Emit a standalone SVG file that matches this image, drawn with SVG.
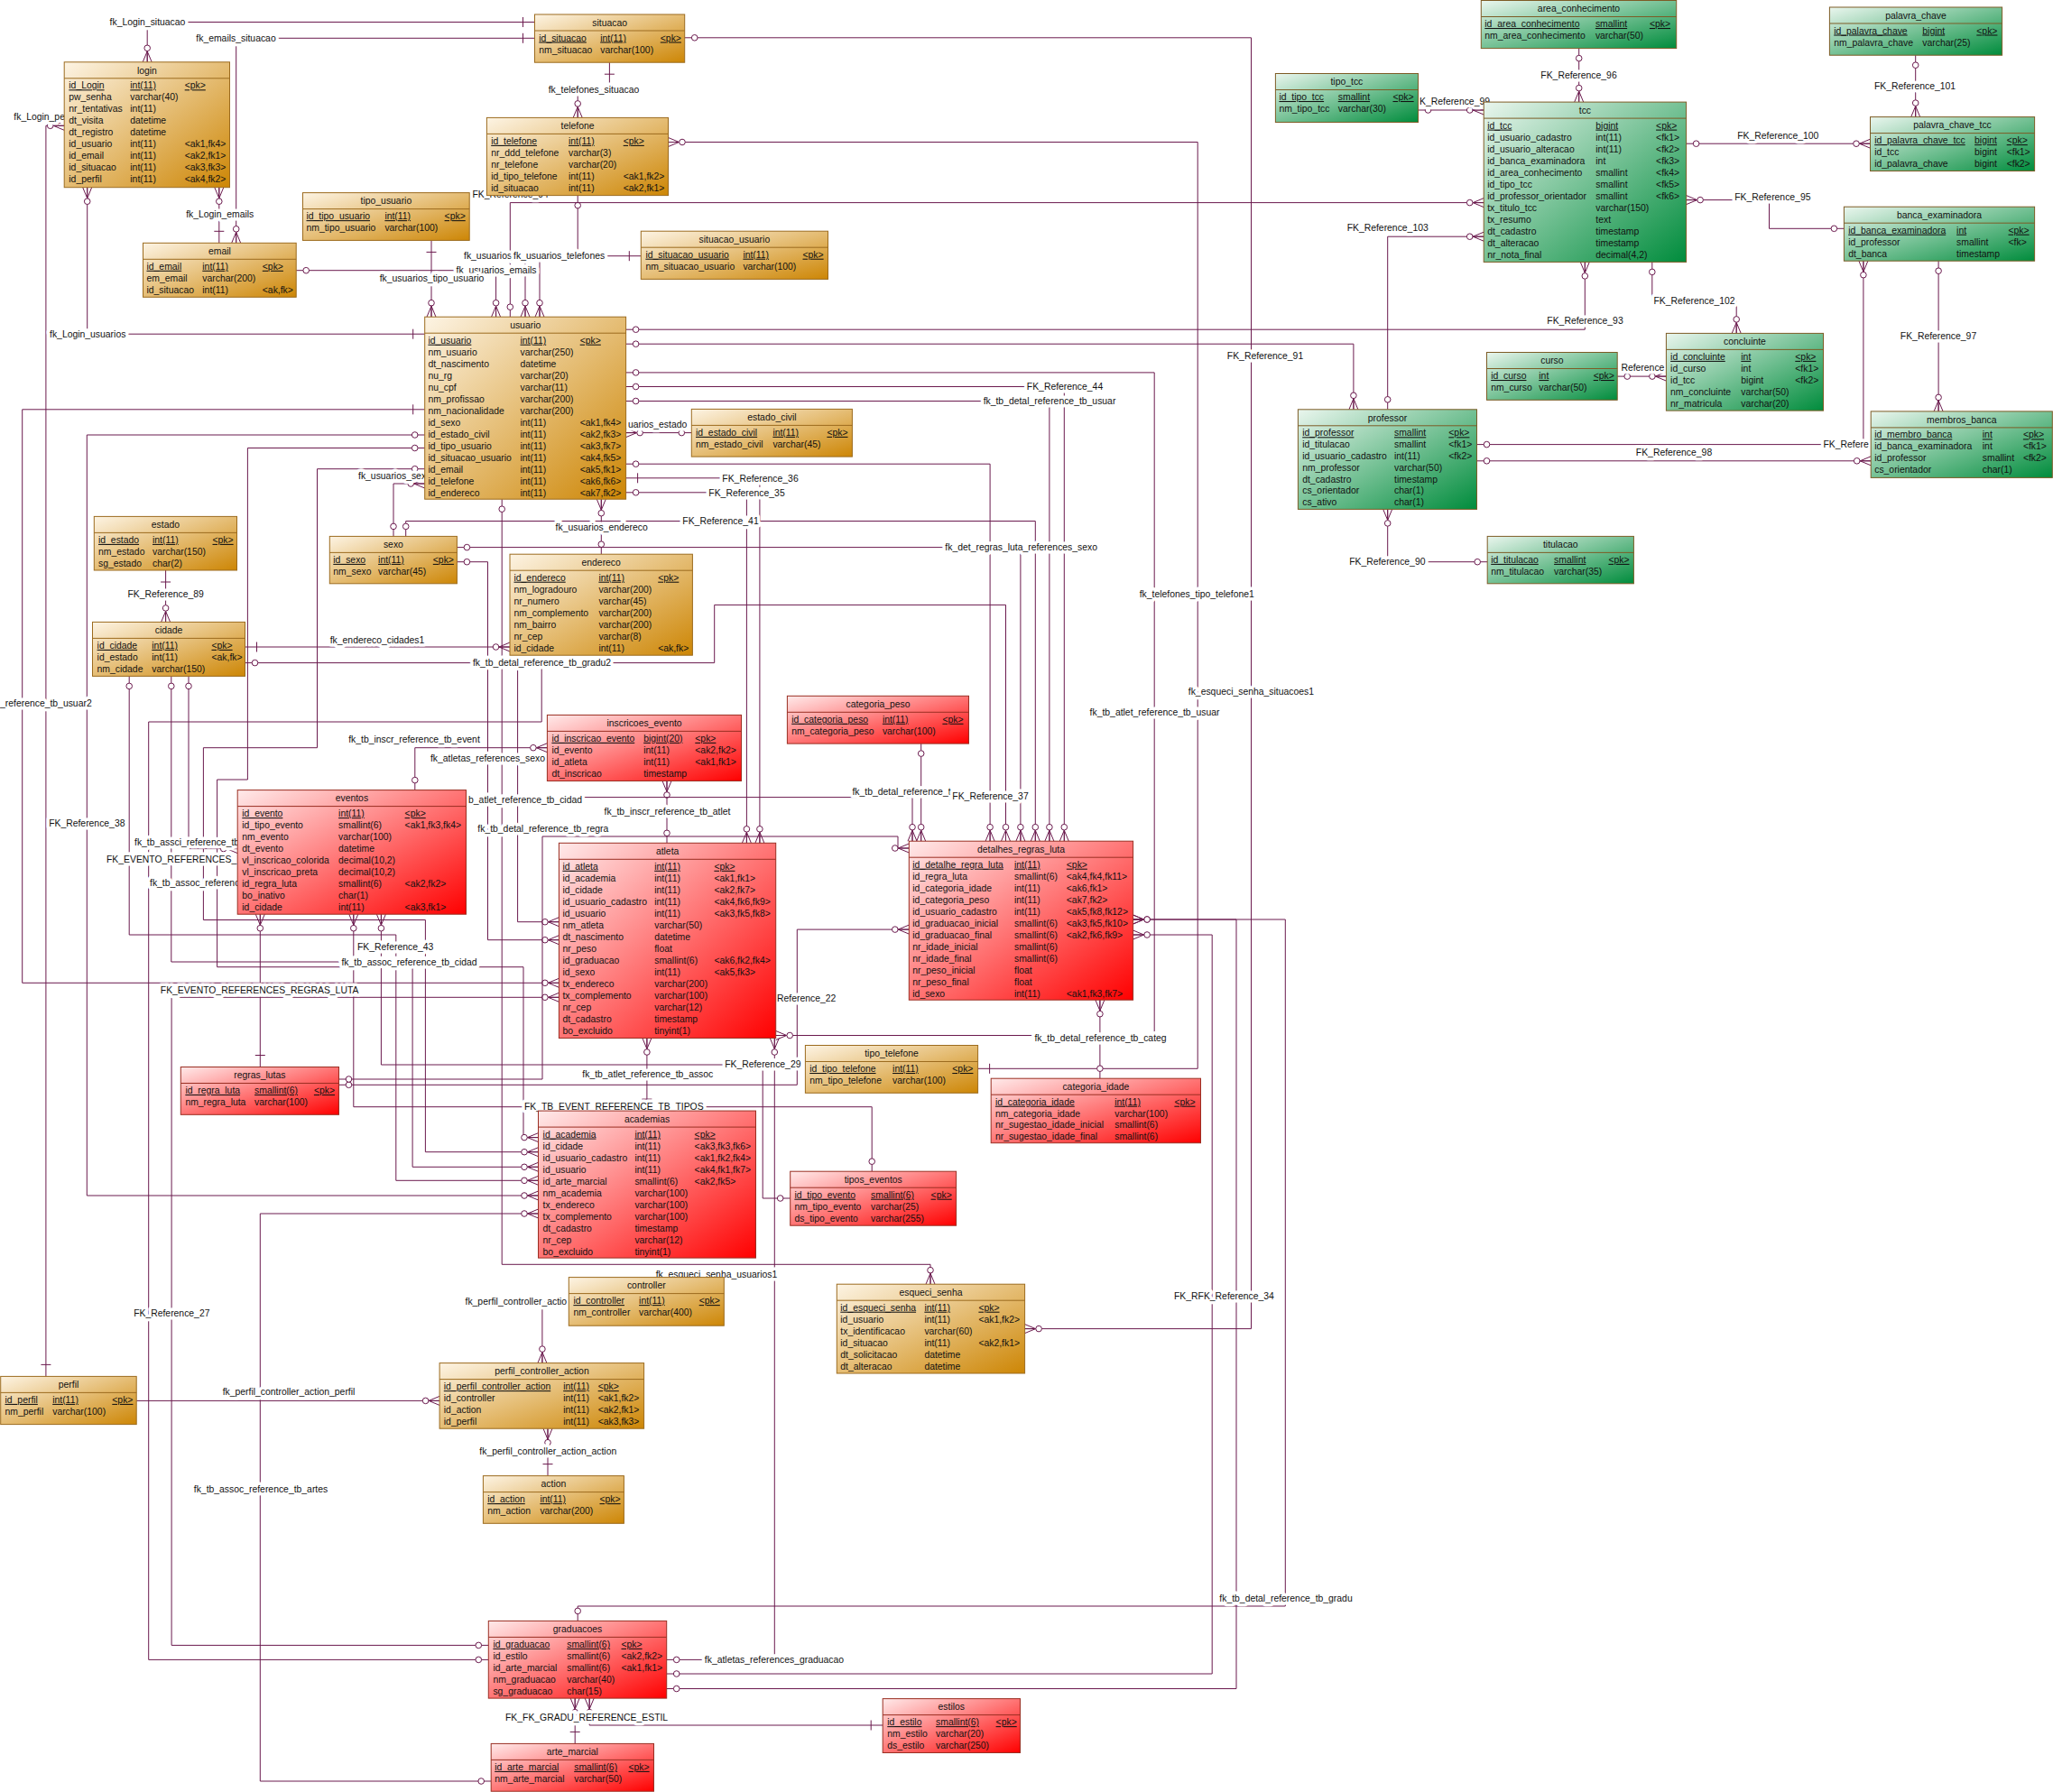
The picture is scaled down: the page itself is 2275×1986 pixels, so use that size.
<svg xmlns="http://www.w3.org/2000/svg" width="2275" height="1986" viewBox="0 0 2275 1986">
<defs>
<linearGradient id="go" x1="0" y1="0" x2="1" y2="1"><stop offset="0" stop-color="#fdf4e4"/><stop offset="1" stop-color="#cd8605"/></linearGradient>
<linearGradient id="gr" x1="0" y1="0" x2="1" y2="1"><stop offset="0" stop-color="#ffeaea"/><stop offset="1" stop-color="#ff0000"/></linearGradient>
<linearGradient id="gg" x1="0" y1="0" x2="1" y2="1"><stop offset="0" stop-color="#eaf6ee"/><stop offset="1" stop-color="#008c3c"/></linearGradient>
<marker id="mc" viewBox="-22 -8 24 16" refX="0" refY="0" markerWidth="24" markerHeight="16" markerUnits="userSpaceOnUse" orient="auto-start-reverse"><path d="M-12,0L0,-5M-12,0H0M-12,0L0,5" fill="none" stroke="#6b1a4e"/><circle cx="-15.5" cy="0" r="3.3" fill="#fff" stroke="#6b1a4e"/></marker>
<marker id="mb" viewBox="-22 -8 24 16" refX="0" refY="0" markerWidth="24" markerHeight="16" markerUnits="userSpaceOnUse" orient="auto-start-reverse"><path d="M-13,-5.5V5.5" fill="none" stroke="#6b1a4e"/></marker>
<marker id="mo" viewBox="-22 -8 24 16" refX="0" refY="0" markerWidth="24" markerHeight="16" markerUnits="userSpaceOnUse" orient="auto-start-reverse"><circle cx="-11" cy="0" r="3.3" fill="#fff" stroke="#6b1a4e"/></marker>
</defs>
<style>
text{font-family:"Liberation Sans",Arial,sans-serif;font-size:10.4px;fill:#111}
.tt{text-anchor:middle}
.u{text-decoration:underline}
.lb{text-anchor:middle;paint-order:stroke;stroke:#fff;stroke-width:7px;stroke-linejoin:round}
.ls{paint-order:stroke;stroke:#fff;stroke-width:7px;stroke-linejoin:round}
.le{text-anchor:end;paint-order:stroke;stroke:#fff;stroke-width:7px;stroke-linejoin:round}
.bg{fill:#fff;stroke:none}
.o{fill:url(#go);stroke:#9c6b1e}
.r{fill:url(#gr);stroke:#9a2e22}
.g{fill:url(#gg);stroke:#7d5c26}
.so{stroke:#9c6b1e;fill:none}
.sr{stroke:#9a2e22;fill:none}
.sg{stroke:#7d5c26;fill:none}
.l{fill:none;stroke:#6b1a4e;stroke-width:1}
.b{marker-start:url(#mb)}
.c{marker-start:url(#mo)}
.k{marker-start:url(#mc)}
.e{marker-end:url(#mc)}
</style>
<rect x="0" y="0" width="2275" height="1986" fill="#fff"/>
<g id="connectors">
<path class="l b e" d="M592.5,24.5H163.2V68.8"/>
<path class="l b e" d="M592.5,42.3H261.7V269.3"/>
<path class="l b e" d="M242.8,269.3V207.7"/>
<path class="l b e" d="M50.9,1525.4V139.3H71.2"/>
<path class="l b e" d="M470.7,370.2H96.7V207.7"/>
<path class="l c e" d="M328.2,299.7H549.6V351.2"/>
<path class="l b e" d="M478,266.4V351.2"/>
<path class="l c e" d="M640.2,216.6V283.7H582V351.2"/>
<path class="l b e" d="M710.3,283.7H598V351.2"/>
<path class="l c e" d="M565.3,351.2V224.6H1644.2"/>
<path class="l b e" d="M675.4,69.2V99.6H640.2V130.4"/>
<path class="l b e" d="M1083.6,1184.3H1327.2V157.5H740.5"/>
<path class="l c e" d="M758.7,41.8H1386.5V1472.6H1135.6"/>
<path class="l c e" d="M766.3,479.6H693.6"/>
<path class="l c e" d="M436,594.4V536H470.7"/>
<path class="l c e" d="M666.3,614.2V553.2"/>
<path class="l b e" d="M183.6,632V689.4"/>
<path class="l b e" d="M271.5,717H565"/>
<path class="l c e" d="M693.6,365.2H1756.3V290.4"/>
<path class="l c e" d="M693.6,381.2H1499.9V453.8"/>
<path class="l c e" d="M693.6,412.9H1279.2V1147.5H859.7"/>
<path class="l c e" d="M693.6,428.5H1179.3V932.2"/>
<path class="l c e" d="M693.6,444.5H1162.9V932.2"/>
<path class="l c e" d="M693.6,514.2H1097.1V932.2"/>
<path class="l b e" d="M693.6,529.8H841.9V934.3"/>
<path class="l c e" d="M693.6,545.8H827.4V934.3"/>
<path class="l c e" d="M449.7,594.4V577.5H1147.3V932.2"/>
<path class="l c e" d="M506.4,606.6H1130.9V932.2"/>
<path class="l c e" d="M541.3,1839.4H164.7V800H600.2V734.6H791.7V670.4H1114.5V932.2"/>
<path class="l c e" d="M271.5,734.6H573.6V1021.7H619.4"/>
<path class="l c e" d="M470.7,482H96.3V1325H596.5"/>
<path class="l b e" d="M470.7,453.8H24.7V1089.3H619.4"/>
<path class="l c e" d="M470.7,496.5H274.4V864H240.6V1071.7H580V1260.6H596.5"/>
<path class="l c e" d="M470.7,519.7H351.5V828.7H225.4V1019.5H471.4V1276.7H596.5"/>
<path class="l c e" d="M506.4,622.7H540.5V1041.7H619.4"/>
<path class="l c e" d="M541.3,1823.4H190.1V1105.3H619.4"/>
<path class="l c e" d="M143.2,749.4V1036H438.8V1308.3H596.5"/>
<path class="l c e" d="M189.8,749.4V1066H457.1V1293.3H596.5"/>
<path class="l c e" d="M209,749.4V940.6H263.2"/>
<path class="l b e" d="M288.3,1182.5V1013.2"/>
<path class="l c e" d="M966.2,1298.2V1226.7H391.8V1013.2"/>
<path class="l c e" d="M875.7,1328H845.2V1180H422.4V1013.2"/>
<path class="l c e" d="M459.8,875.6V828.7H606.4"/>
<path class="l c e" d="M739,934.3V865.5"/>
<path class="l b e" d="M716.9,1231.1V1150.5"/>
<path class="l c e" d="M738.7,1839.4H858.3V1150.5"/>
<path class="l c e" d="M375.5,1202.3H883.3V1030.1H1007.3"/>
<path class="l c e" d="M375.5,1196H601V927H995V940H1007.3"/>
<path class="l c e" d="M1020.7,824.1V932.2"/>
<path class="l e" d="M645,883.6H1011V932.2"/>
<path class="l c e" d="M1218.9,1195.2V1108.2"/>
<path class="l c e" d="M640.2,1796.4V1780H1424.3V1019H1255.6"/>
<path class="l c e" d="M738.7,1855H1343.2V1036H1255.6"/>
<path class="l c e" d="M738.7,1871.5H1370V1019H1255.6"/>
<path class="l c e" d="M556.2,553.2V1401.3H1031V1423.2"/>
<path class="l e" d="M151.2,1552.4H487.1"/>
<path class="l e" d="M630.3,1442.6H600.9V1510.6"/>
<path class="l b e" d="M607,1635.6V1583.2"/>
<path class="l c e" d="M544.2,1974H288.3V1345H596.5"/>
<path class="l b e" d="M978.2,1912H653.2V1882.1"/>
<path class="l b e" d="M637.2,1932.4V1882.1"/>
<path class="l c e" d="M1749.7,53.6V113.1"/>
<path class="l c e" d="M1571.5,122H1644.2"/>
<path class="l c e" d="M1868.6,159.2H2072.5"/>
<path class="l c e" d="M2122.7,61.2V129.6"/>
<path class="l c e" d="M2043.4,253.3H1960.5V221.6H1868.6"/>
<path class="l c e" d="M1830.8,290.4V333.5H1924.2V369.4"/>
<path class="l c e" d="M1792.2,417.1H1846.4"/>
<path class="l c e" d="M1636.5,510.8H2073.2"/>
<path class="l c e" d="M1636.5,492.6H2064.9V289.2"/>
<path class="l c e" d="M2148.1,289.2V455.9"/>
<path class="l c e" d="M1648.2,622.7H1537.7V564.4"/>
<path class="l c e" d="M1537.7,453.8V262.2H1644.2"/>
<rect class="bg" x="121" y="18.5" width="86" height="12"/>
<rect class="bg" x="217" y="36.6" width="89" height="12"/>
<rect class="bg" x="55" y="364.2" width="85" height="12"/>
<rect class="bg" x="506" y="293.3" width="88" height="12"/>
<rect class="bg" x="571" y="277.7" width="98" height="12"/>
<rect class="bg" x="1137" y="422.5" width="86" height="12"/>
<rect class="bg" x="1089" y="438.5" width="148" height="12"/>
<rect class="bg" x="800" y="523.8" width="85" height="12"/>
<rect class="bg" x="785" y="539.8" width="85" height="12"/>
<rect class="bg" x="756" y="571.5" width="85" height="12"/>
<rect class="bg" x="1049" y="600.6" width="166" height="12"/>
<rect class="bg" x="522" y="728.6" width="157" height="12"/>
<rect class="bg" x="517" y="880.6" width="128" height="12"/>
<rect class="bg" x="944" y="871.3" width="112" height="12"/>
<rect class="bg" x="379" y="1059.8" width="149" height="12"/>
<rect class="bg" x="803" y="1173" width="85" height="12"/>
<rect class="bg" x="581" y="1220.4" width="199" height="12"/>
<rect class="bg" x="1145" y="1144.4" width="149" height="12"/>
<rect class="bg" x="780" y="1833.4" width="155" height="12"/>
<rect class="bg" x="2020" y="486.7" width="49" height="12"/>
<rect class="bg" x="1922" y="212.2" width="85" height="12"/>
<rect class="bg" x="1495" y="616.7" width="84" height="12"/>
<rect class="bg" x="1832" y="327.5" width="91" height="12"/>
<text class="lb" x="163.5" y="28.2">fk_Login_situacao</text>
<text class="lb" x="261.5" y="46.3">fk_emails_situacao</text>
<text class="lb" x="243.7" y="241.4">fk_Login_emails</text>
<text class="ls" x="15.3" y="132.5">fk_Login_pe</text>
<text class="lb" x="97.2" y="373.9">fk_Login_usuarios</text>
<text class="lb" x="550" y="303">fk_usuarios_emails</text>
<text class="lb" x="478.5" y="312.3">fk_usuarios_tipo_usuario</text>
<text class="ls" x="514" y="287.4">fk_usuarios_</text>
<text class="lb" x="619.6" y="287.4">fk_usuarios_telefones</text>
<text class="ls" x="523.5" y="219.4">FK_Reference_94</text>
<text class="lb" x="658" y="103.3">fk_telefones_situacao</text>
<text class="lb" x="1326.3" y="662.2">fk_telefones_tipo_telefone1</text>
<text class="lb" x="1386.4" y="770">fk_esqueci_senha_situacoes1</text>
<text class="ls" x="696" y="474.4">uarios_estado</text>
<text class="ls" x="397" y="531.4">fk_usuarios_sex</text>
<text class="lb" x="666.7" y="587.5">fk_usuarios_endereco</text>
<text class="lb" x="183.6" y="662.2">FK_Reference_89</text>
<text class="lb" x="418" y="713.4">fk_endereco_cidades1</text>
<text class="lb" x="1756.5" y="359.1">FK_Reference_93</text>
<text class="lb" x="1402" y="398.4">FK_Reference_91</text>
<text class="lb" x="1279.5" y="793.2">fk_tb_atlet_reference_tb_usuar</text>
<text class="lb" x="1180" y="432.2">FK_Reference_44</text>
<text class="lb" x="1163" y="448.2">fk_tb_detal_reference_tb_usuar</text>
<text class="lb" x="842.5" y="533.5">FK_Reference_36</text>
<text class="lb" x="827.5" y="549.5">FK_Reference_35</text>
<text class="lb" x="798.5" y="581.2">FK_Reference_41</text>
<text class="lb" x="1131.7" y="610.3">fk_det_regras_luta_references_sexo</text>
<text class="lb" x="600.5" y="738.3">fk_tb_detal_reference_tb_gradu2</text>
<text class="lb" x="96.3" y="916">FK_Reference_38</text>
<text class="ls" x="0" y="783.1">_reference_tb_usuar2</text>
<text class="lb" x="540.5" y="844.3">fk_atletas_references_sexo</text>
<text class="lb" x="190.3" y="1459.4">FK_Reference_27</text>
<text class="lb" x="453.5" y="1069.5">fk_tb_assoc_reference_tb_cidad</text>
<text class="ls" x="149" y="937.1">fk_tb_assci_reference_tb</text>
<text class="ls" x="118" y="956.1">FK_EVENTO_REFERENCES_</text>
<text class="ls" x="166" y="981.5">fk_tb_assoc_referenc</text>
<text class="lb" x="287.6" y="1100.5">FK_EVENTO_REFERENCES_REGRAS_LUTA</text>
<text class="lb" x="680.3" y="1230.1">FK_TB_EVENT_REFERENCE_TB_TIPOS</text>
<text class="ls" x="396" y="1053.2">FK_Reference_43</text>
<text class="lb" x="459" y="823.2">fk_tb_inscr_reference_tb_event</text>
<text class="lb" x="739.5" y="903.4">fk_tb_inscr_reference_tb_atlet</text>
<text class="lb" x="717.8" y="1194.2">fk_tb_atlet_reference_tb_assoc</text>
<text class="ls" x="780.8" y="1843.1">fk_atletas_references_graduacao</text>
<text class="lb" x="845.3" y="1182.7">FK_Reference_29</text>
<text class="ls" x="861" y="1110.2">Reference_22</text>
<text class="lb" x="601.8" y="921.9">fk_tb_detal_reference_tb_regra</text>
<text class="le" x="645" y="890.3">b_atlet_reference_tb_cidad</text>
<text class="ls" x="944.4" y="881">fk_tb_detal_reference_t</text>
<text class="lb" x="1097.5" y="886.1">FK_Reference_37</text>
<text class="lb" x="1219.5" y="1154.1">fk_tb_detal_reference_tb_categ</text>
<text class="lb" x="1425" y="1775.2">fk_tb_detal_reference_tb_gradu</text>
<text class="ls" x="1301" y="1439.6">FK_RFK_Reference_34</text>
<text class="lb" x="794" y="1415.5">fk_esqueci_senha_usuarios1</text>
<text class="lb" x="320" y="1546.4">fk_perfil_controller_action_perfil</text>
<text class="ls" x="515.5" y="1446.3">fk_perfil_controller_actio</text>
<text class="lb" x="607.3" y="1612.2">fk_perfil_controller_action_action</text>
<text class="lb" x="289" y="1654">fk_tb_assoc_reference_tb_artes</text>
<text class="ls" x="560" y="1906.9">FK_FK_GRADU_REFERENCE_ESTIL</text>
<text class="lb" x="1749.5" y="86.9">FK_Reference_96</text>
<text class="ls" x="1573" y="116">K_Reference_99</text>
<text class="lb" x="1970.3" y="154">FK_Reference_100</text>
<text class="lb" x="2122" y="99.1">FK_Reference_101</text>
<text class="lb" x="1964.3" y="221.9">FK_Reference_95</text>
<text class="lb" x="1877.5" y="337.2">FK_Reference_102</text>
<text class="lb" x="1820.4" y="411.1">Reference</text>
<text class="lb" x="1855" y="505.2">FK_Reference_98</text>
<text class="ls" x="2020.5" y="496.4">FK_Refere</text>
<text class="lb" x="2148" y="376">FK_Reference_97</text>
<text class="lb" x="1537.3" y="626.4">FK_Reference_90</text>
<text class="lb" x="1537.7" y="256.1">FK_Reference_103</text>
</g>
<g id="login"><rect class="o" x="71.2" y="68.8" width="183.3" height="138.9"/><path class="so" d="M71.2,86.8h183.3"/><text class="tt" x="162.9" y="81.5">login</text>
<text class="u" y="98.3"><tspan x="76.3">id_Login</tspan><tspan x="144.3">int(11)</tspan><tspan x="204.7">&lt;pk&gt;</tspan></text>
<text y="111.3"><tspan x="76.3">pw_senha</tspan><tspan x="144.3">varchar(40)</tspan></text>
<text y="124.3"><tspan x="76.3">nr_tentativas</tspan><tspan x="144.3">int(11)</tspan></text>
<text y="137.3"><tspan x="76.3">dt_visita</tspan><tspan x="144.3">datetime</tspan></text>
<text y="150.3"><tspan x="76.3">dt_registro</tspan><tspan x="144.3">datetime</tspan></text>
<text y="163.3"><tspan x="76.3">id_usuario</tspan><tspan x="144.3">int(11)</tspan><tspan x="204.7">&lt;ak1,fk4&gt;</tspan></text>
<text y="176.3"><tspan x="76.3">id_email</tspan><tspan x="144.3">int(11)</tspan><tspan x="204.7">&lt;ak2,fk1&gt;</tspan></text>
<text y="189.3"><tspan x="76.3">id_situacao</tspan><tspan x="144.3">int(11)</tspan><tspan x="204.7">&lt;ak3,fk3&gt;</tspan></text>
<text y="202.3"><tspan x="76.3">id_perfil</tspan><tspan x="144.3">int(11)</tspan><tspan x="204.7">&lt;ak4,fk2&gt;</tspan></text>
</g>
<g id="email"><rect class="o" x="158.5" y="269.3" width="169.7" height="60"/><path class="so" d="M158.5,287.3h169.7"/><text class="tt" x="243.4" y="282">email</text>
<text class="u" y="298.8"><tspan x="162.5">id_email</tspan><tspan x="224.3">int(11)</tspan><tspan x="290.8">&lt;pk&gt;</tspan></text>
<text y="311.8"><tspan x="162.5">em_email</tspan><tspan x="224.3">varchar(200)</tspan></text>
<text y="324.8"><tspan x="162.5">id_situacao</tspan><tspan x="224.3">int(11)</tspan><tspan x="290.8">&lt;ak,fk&gt;</tspan></text>
</g>
<g id="tipo_usuario"><rect class="o" x="335.5" y="213.6" width="184.7" height="52.8"/><path class="so" d="M335.5,231.6h184.7"/><text class="tt" x="427.9" y="226.3">tipo_usuario</text>
<text class="u" y="243.1"><tspan x="339.5">id_tipo_usuario</tspan><tspan x="426.4">int(11)</tspan><tspan x="492.6">&lt;pk&gt;</tspan></text>
<text y="256.1"><tspan x="339.5">nm_tipo_usuario</tspan><tspan x="426.4">varchar(100)</tspan></text>
</g>
<g id="situacao"><rect class="o" x="592.5" y="16" width="166.2" height="53.2"/><path class="so" d="M592.5,34h166.2"/><text class="tt" x="675.6" y="28.7">situacao</text>
<text class="u" y="45.5"><tspan x="597.3">id_situacao</tspan><tspan x="665.2">int(11)</tspan><tspan x="731.8">&lt;pk&gt;</tspan></text>
<text y="58.5"><tspan x="597.3">nm_situacao</tspan><tspan x="665.2">varchar(100)</tspan></text>
</g>
<g id="telefone"><rect class="o" x="539.4" y="130.4" width="201.1" height="86.2"/><path class="so" d="M539.4,148.4h201.1"/><text class="tt" x="640" y="143.1">telefone</text>
<text class="u" y="159.9"><tspan x="544.2">id_telefone</tspan><tspan x="630">int(11)</tspan><tspan x="690.7">&lt;pk&gt;</tspan></text>
<text y="172.9"><tspan x="544.2">nr_ddd_telefone</tspan><tspan x="630">varchar(3)</tspan></text>
<text y="185.9"><tspan x="544.2">nr_telefone</tspan><tspan x="630">varchar(20)</tspan></text>
<text y="198.9"><tspan x="544.2">id_tipo_telefone</tspan><tspan x="630">int(11)</tspan><tspan x="690.7">&lt;ak1,fk2&gt;</tspan></text>
<text y="211.9"><tspan x="544.2">id_situacao</tspan><tspan x="630">int(11)</tspan><tspan x="690.7">&lt;ak2,fk1&gt;</tspan></text>
</g>
<g id="situacao_usuario"><rect class="o" x="710.3" y="256.2" width="207.2" height="53.2"/><path class="so" d="M710.3,274.2h207.2"/><text class="tt" x="813.9" y="268.9">situacao_usuario</text>
<text class="u" y="285.7"><tspan x="715.4">id_situacao_usuario</tspan><tspan x="823.4">int(11)</tspan><tspan x="889.5">&lt;pk&gt;</tspan></text>
<text y="298.7"><tspan x="715.4">nm_situacao_usuario</tspan><tspan x="823.4">varchar(100)</tspan></text>
</g>
<g id="usuario"><rect class="o" x="470.7" y="351.2" width="222.9" height="202"/><path class="so" d="M470.7,369.2h222.9"/><text class="tt" x="582.2" y="363.9">usuario</text>
<text class="u" y="380.7"><tspan x="474.4">id_usuario</tspan><tspan x="576.5">int(11)</tspan><tspan x="642.7">&lt;pk&gt;</tspan></text>
<text y="393.7"><tspan x="474.4">nm_usuario</tspan><tspan x="576.5">varchar(250)</tspan></text>
<text y="406.7"><tspan x="474.4">dt_nascimento</tspan><tspan x="576.5">datetime</tspan></text>
<text y="419.7"><tspan x="474.4">nu_rg</tspan><tspan x="576.5">varchar(20)</tspan></text>
<text y="432.7"><tspan x="474.4">nu_cpf</tspan><tspan x="576.5">varchar(11)</tspan></text>
<text y="445.7"><tspan x="474.4">nm_profissao</tspan><tspan x="576.5">varchar(200)</tspan></text>
<text y="458.7"><tspan x="474.4">nm_nacionalidade</tspan><tspan x="576.5">varchar(200)</tspan></text>
<text y="471.7"><tspan x="474.4">id_sexo</tspan><tspan x="576.5">int(11)</tspan><tspan x="642.7">&lt;ak1,fk4&gt;</tspan></text>
<text y="484.7"><tspan x="474.4">id_estado_civil</tspan><tspan x="576.5">int(11)</tspan><tspan x="642.7">&lt;ak2,fk3&gt;</tspan></text>
<text y="497.7"><tspan x="474.4">id_tipo_usuario</tspan><tspan x="576.5">int(11)</tspan><tspan x="642.7">&lt;ak3,fk7&gt;</tspan></text>
<text y="510.7"><tspan x="474.4">id_situacao_usuario</tspan><tspan x="576.5">int(11)</tspan><tspan x="642.7">&lt;ak4,fk5&gt;</tspan></text>
<text y="523.7"><tspan x="474.4">id_email</tspan><tspan x="576.5">int(11)</tspan><tspan x="642.7">&lt;ak5,fk1&gt;</tspan></text>
<text y="536.7"><tspan x="474.4">id_telefone</tspan><tspan x="576.5">int(11)</tspan><tspan x="642.7">&lt;ak6,fk6&gt;</tspan></text>
<text y="549.7"><tspan x="474.4">id_endereco</tspan><tspan x="576.5">int(11)</tspan><tspan x="642.7">&lt;ak7,fk2&gt;</tspan></text>
</g>
<g id="estado_civil"><rect class="o" x="766.3" y="453.4" width="178.1" height="52.7"/><path class="so" d="M766.3,471.4h178.1"/><text class="tt" x="855.4" y="466.1">estado_civil</text>
<text class="u" y="482.9"><tspan x="771">id_estado_civil</tspan><tspan x="856.4">int(11)</tspan><tspan x="916.4">&lt;pk&gt;</tspan></text>
<text y="495.9"><tspan x="771">nm_estado_civil</tspan><tspan x="856.4">varchar(45)</tspan></text>
</g>
<g id="estado"><rect class="o" x="104.3" y="572.4" width="158.2" height="59.6"/><path class="so" d="M104.3,590.4h158.2"/><text class="tt" x="183.4" y="585.1">estado</text>
<text class="u" y="601.9"><tspan x="109">id_estado</tspan><tspan x="169">int(11)</tspan><tspan x="235.5">&lt;pk&gt;</tspan></text>
<text y="614.9"><tspan x="109">nm_estado</tspan><tspan x="169">varchar(150)</tspan></text>
<text y="627.9"><tspan x="109">sg_estado</tspan><tspan x="169">char(2)</tspan></text>
</g>
<g id="sexo"><rect class="o" x="365.3" y="594.4" width="141.1" height="52.4"/><path class="so" d="M365.3,612.4h141.1"/><text class="tt" x="435.9" y="607.1">sexo</text>
<text class="u" y="623.9"><tspan x="369.3">id_sexo</tspan><tspan x="419.1">int(11)</tspan><tspan x="479.8">&lt;pk&gt;</tspan></text>
<text y="636.9"><tspan x="369.3">nm_sexo</tspan><tspan x="419.1">varchar(45)</tspan></text>
</g>
<g id="endereco"><rect class="o" x="565" y="614.2" width="202.4" height="112"/><path class="so" d="M565,632.2h202.4"/><text class="tt" x="666.2" y="626.9">endereco</text>
<text class="u" y="643.7"><tspan x="569.5">id_endereco</tspan><tspan x="663.4">int(11)</tspan><tspan x="729.2">&lt;pk&gt;</tspan></text>
<text y="656.7"><tspan x="569.5">nm_logradouro</tspan><tspan x="663.4">varchar(200)</tspan></text>
<text y="669.7"><tspan x="569.5">nr_numero</tspan><tspan x="663.4">varchar(45)</tspan></text>
<text y="682.7"><tspan x="569.5">nm_complemento</tspan><tspan x="663.4">varchar(200)</tspan></text>
<text y="695.7"><tspan x="569.5">nm_bairro</tspan><tspan x="663.4">varchar(200)</tspan></text>
<text y="708.7"><tspan x="569.5">nr_cep</tspan><tspan x="663.4">varchar(8)</tspan></text>
<text y="721.7"><tspan x="569.5">id_cidade</tspan><tspan x="663.4">int(11)</tspan><tspan x="729.2">&lt;ak,fk&gt;</tspan></text>
</g>
<g id="cidade"><rect class="o" x="102.5" y="689.4" width="169" height="60"/><path class="so" d="M102.5,707.4h169"/><text class="tt" x="187" y="702.1">cidade</text>
<text class="u" y="718.9"><tspan x="107.6">id_cidade</tspan><tspan x="168.3">int(11)</tspan><tspan x="234.5">&lt;pk&gt;</tspan></text>
<text y="731.9"><tspan x="107.6">id_estado</tspan><tspan x="168.3">int(11)</tspan><tspan x="234.5">&lt;ak,fk&gt;</tspan></text>
<text y="744.9"><tspan x="107.6">nm_cidade</tspan><tspan x="168.3">varchar(150)</tspan></text>
</g>
<g id="inscricoes_evento"><rect class="r" x="606.4" y="792.4" width="215.1" height="73.1"/><path class="sr" d="M606.4,810.4h215.1"/><text class="tt" x="714" y="805.1">inscricoes_evento</text>
<text class="u" y="821.9"><tspan x="611.4">id_inscricao_evento</tspan><tspan x="713.2">bigint(20)</tspan><tspan x="770.3">&lt;pk&gt;</tspan></text>
<text y="834.9"><tspan x="611.4">id_evento</tspan><tspan x="713.2">int(11)</tspan><tspan x="770.3">&lt;ak2,fk2&gt;</tspan></text>
<text y="847.9"><tspan x="611.4">id_atleta</tspan><tspan x="713.2">int(11)</tspan><tspan x="770.3">&lt;ak1,fk1&gt;</tspan></text>
<text y="860.9"><tspan x="611.4">dt_inscricao</tspan><tspan x="713.2">timestamp</tspan></text>
</g>
<g id="categoria_peso"><rect class="r" x="872.4" y="771.3" width="201.1" height="52.8"/><path class="sr" d="M872.4,789.3h201.1"/><text class="tt" x="973" y="784">categoria_peso</text>
<text class="u" y="800.8"><tspan x="877.2">id_categoria_peso</tspan><tspan x="977.9">int(11)</tspan><tspan x="1044.4">&lt;pk&gt;</tspan></text>
<text y="813.8"><tspan x="877.2">nm_categoria_peso</tspan><tspan x="977.9">varchar(100)</tspan></text>
</g>
<g id="eventos"><rect class="r" x="263.2" y="875.6" width="253.3" height="137.6"/><path class="sr" d="M263.2,893.6h253.3"/><text class="tt" x="389.9" y="888.3">eventos</text>
<text class="u" y="905.1"><tspan x="268.3">id_evento</tspan><tspan x="375.1">int(11)</tspan><tspan x="448.6">&lt;pk&gt;</tspan></text>
<text y="918.1"><tspan x="268.3">id_tipo_evento</tspan><tspan x="375.1">smallint(6)</tspan><tspan x="448.6">&lt;ak1,fk3,fk4&gt;</tspan></text>
<text y="931.1"><tspan x="268.3">nm_evento</tspan><tspan x="375.1">varchar(100)</tspan></text>
<text y="944.1"><tspan x="268.3">dt_evento</tspan><tspan x="375.1">datetime</tspan></text>
<text y="957.1"><tspan x="268.3">vl_inscricao_colorida</tspan><tspan x="375.1">decimal(10,2)</tspan></text>
<text y="970.1"><tspan x="268.3">vl_inscricao_preta</tspan><tspan x="375.1">decimal(10,2)</tspan></text>
<text y="983.1"><tspan x="268.3">id_regra_luta</tspan><tspan x="375.1">smallint(6)</tspan><tspan x="448.6">&lt;ak2,fk2&gt;</tspan></text>
<text y="996.1"><tspan x="268.3">bo_inativo</tspan><tspan x="375.1">char(1)</tspan></text>
<text y="1009.1"><tspan x="268.3">id_cidade</tspan><tspan x="375.1">int(11)</tspan><tspan x="448.6">&lt;ak3,fk1&gt;</tspan></text>
</g>
<g id="atleta"><rect class="r" x="619.4" y="934.3" width="240.3" height="216.2"/><path class="sr" d="M619.4,952.3h240.3"/><text class="tt" x="739.6" y="947">atleta</text>
<text class="u" y="963.8"><tspan x="623.4">id_atleta</tspan><tspan x="725.2">int(11)</tspan><tspan x="791.4">&lt;pk&gt;</tspan></text>
<text y="976.8"><tspan x="623.4">id_academia</tspan><tspan x="725.2">int(11)</tspan><tspan x="791.4">&lt;ak1,fk1&gt;</tspan></text>
<text y="989.8"><tspan x="623.4">id_cidade</tspan><tspan x="725.2">int(11)</tspan><tspan x="791.4">&lt;ak2,fk7&gt;</tspan></text>
<text y="1002.8"><tspan x="623.4">id_usuario_cadastro</tspan><tspan x="725.2">int(11)</tspan><tspan x="791.4">&lt;ak4,fk6,fk9&gt;</tspan></text>
<text y="1015.8"><tspan x="623.4">id_usuario</tspan><tspan x="725.2">int(11)</tspan><tspan x="791.4">&lt;ak3,fk5,fk8&gt;</tspan></text>
<text y="1028.8"><tspan x="623.4">nm_atleta</tspan><tspan x="725.2">varchar(50)</tspan></text>
<text y="1041.8"><tspan x="623.4">dt_nascimento</tspan><tspan x="725.2">datetime</tspan></text>
<text y="1054.8"><tspan x="623.4">nr_peso</tspan><tspan x="725.2">float</tspan></text>
<text y="1067.8"><tspan x="623.4">id_graduacao</tspan><tspan x="725.2">smallint(6)</tspan><tspan x="791.4">&lt;ak6,fk2,fk4&gt;</tspan></text>
<text y="1080.8"><tspan x="623.4">id_sexo</tspan><tspan x="725.2">int(11)</tspan><tspan x="791.4">&lt;ak5,fk3&gt;</tspan></text>
<text y="1093.8"><tspan x="623.4">tx_endereco</tspan><tspan x="725.2">varchar(200)</tspan></text>
<text y="1106.8"><tspan x="623.4">tx_complemento</tspan><tspan x="725.2">varchar(100)</tspan></text>
<text y="1119.8"><tspan x="623.4">nr_cep</tspan><tspan x="725.2">varchar(12)</tspan></text>
<text y="1132.8"><tspan x="623.4">dt_cadastro</tspan><tspan x="725.2">timestamp</tspan></text>
<text y="1145.8"><tspan x="623.4">bo_excluido</tspan><tspan x="725.2">tinyint(1)</tspan></text>
</g>
<g id="detalhes_regras_luta"><rect class="r" x="1007.3" y="932.2" width="248.3" height="176"/><path class="sr" d="M1007.3,950.2h248.3"/><text class="tt" x="1131.5" y="944.9">detalhes_regras_luta</text>
<text class="u" y="961.7"><tspan x="1011.3">id_detalhe_regra_luta</tspan><tspan x="1124">int(11)</tspan><tspan x="1181.8">&lt;pk&gt;</tspan></text>
<text y="974.7"><tspan x="1011.3">id_regra_luta</tspan><tspan x="1124">smallint(6)</tspan><tspan x="1181.8">&lt;ak4,fk4,fk11&gt;</tspan></text>
<text y="987.7"><tspan x="1011.3">id_categoria_idade</tspan><tspan x="1124">int(11)</tspan><tspan x="1181.8">&lt;ak6,fk1&gt;</tspan></text>
<text y="1000.7"><tspan x="1011.3">id_categoria_peso</tspan><tspan x="1124">int(11)</tspan><tspan x="1181.8">&lt;ak7,fk2&gt;</tspan></text>
<text y="1013.7"><tspan x="1011.3">id_usuario_cadastro</tspan><tspan x="1124">int(11)</tspan><tspan x="1181.8">&lt;ak5,fk8,fk12&gt;</tspan></text>
<text y="1026.7"><tspan x="1011.3">id_graduacao_inicial</tspan><tspan x="1124">smallint(6)</tspan><tspan x="1181.8">&lt;ak3,fk5,fk10&gt;</tspan></text>
<text y="1039.7"><tspan x="1011.3">id_graduacao_final</tspan><tspan x="1124">smallint(6)</tspan><tspan x="1181.8">&lt;ak2,fk6,fk9&gt;</tspan></text>
<text y="1052.7"><tspan x="1011.3">nr_idade_inicial</tspan><tspan x="1124">smallint(6)</tspan></text>
<text y="1065.7"><tspan x="1011.3">nr_idade_final</tspan><tspan x="1124">smallint(6)</tspan></text>
<text y="1078.7"><tspan x="1011.3">nr_peso_inicial</tspan><tspan x="1124">float</tspan></text>
<text y="1091.7"><tspan x="1011.3">nr_peso_final</tspan><tspan x="1124">float</tspan></text>
<text y="1104.7"><tspan x="1011.3">id_sexo</tspan><tspan x="1124">int(11)</tspan><tspan x="1181.8">&lt;ak1,fk3,fk7&gt;</tspan></text>
</g>
<g id="regras_lutas"><rect class="r" x="200.3" y="1182.5" width="175.2" height="52.8"/><path class="sr" d="M200.3,1200.5h175.2"/><text class="tt" x="287.9" y="1195.2">regras_lutas</text>
<text class="u" y="1212"><tspan x="205.4">id_regra_luta</tspan><tspan x="282.1">smallint(6)</tspan><tspan x="347.9">&lt;pk&gt;</tspan></text>
<text y="1225"><tspan x="205.4">nm_regra_luta</tspan><tspan x="282.1">varchar(100)</tspan></text>
</g>
<g id="tipo_telefone"><rect class="o" x="892.4" y="1158.5" width="191.2" height="52.8"/><path class="so" d="M892.4,1176.5h191.2"/><text class="tt" x="988" y="1171.2">tipo_telefone</text>
<text class="u" y="1188"><tspan x="897.2">id_tipo_telefone</tspan><tspan x="989.1">int(11)</tspan><tspan x="1055.3">&lt;pk&gt;</tspan></text>
<text y="1201"><tspan x="897.2">nm_tipo_telefone</tspan><tspan x="989.1">varchar(100)</tspan></text>
</g>
<g id="categoria_idade"><rect class="r" x="1098.2" y="1195.2" width="232.3" height="71.5"/><path class="sr" d="M1098.2,1213.2h232.3"/><text class="tt" x="1214.4" y="1207.9">categoria_idade</text>
<text class="u" y="1224.7"><tspan x="1102.9">id_categoria_idade</tspan><tspan x="1235.2">int(11)</tspan><tspan x="1301.4">&lt;pk&gt;</tspan></text>
<text y="1237.5"><tspan x="1102.9">nm_categoria_idade</tspan><tspan x="1235.2">varchar(100)</tspan></text>
<text y="1250.3"><tspan x="1102.9">nr_sugestao_idade_inicial</tspan><tspan x="1235.2">smallint(6)</tspan></text>
<text y="1263.1"><tspan x="1102.9">nr_sugestao_idade_final</tspan><tspan x="1235.2">smallint(6)</tspan></text>
</g>
<g id="academias"><rect class="r" x="596.5" y="1231.1" width="241" height="163"/><path class="sr" d="M596.5,1249.1h241"/><text class="tt" x="717" y="1243.8">academias</text>
<text class="u" y="1260.6"><tspan x="601.6">id_academia</tspan><tspan x="703.4">int(11)</tspan><tspan x="769.6">&lt;pk&gt;</tspan></text>
<text y="1273.6"><tspan x="601.6">id_cidade</tspan><tspan x="703.4">int(11)</tspan><tspan x="769.6">&lt;ak3,fk3,fk6&gt;</tspan></text>
<text y="1286.6"><tspan x="601.6">id_usuario_cadastro</tspan><tspan x="703.4">int(11)</tspan><tspan x="769.6">&lt;ak1,fk2,fk4&gt;</tspan></text>
<text y="1299.6"><tspan x="601.6">id_usuario</tspan><tspan x="703.4">int(11)</tspan><tspan x="769.6">&lt;ak4,fk1,fk7&gt;</tspan></text>
<text y="1312.6"><tspan x="601.6">id_arte_marcial</tspan><tspan x="703.4">smallint(6)</tspan><tspan x="769.6">&lt;ak2,fk5&gt;</tspan></text>
<text y="1325.6"><tspan x="601.6">nm_academia</tspan><tspan x="703.4">varchar(100)</tspan></text>
<text y="1338.6"><tspan x="601.6">tx_endereco</tspan><tspan x="703.4">varchar(100)</tspan></text>
<text y="1351.6"><tspan x="601.6">tx_complemento</tspan><tspan x="703.4">varchar(100)</tspan></text>
<text y="1364.6"><tspan x="601.6">dt_cadastro</tspan><tspan x="703.4">timestamp</tspan></text>
<text y="1377.6"><tspan x="601.6">nr_cep</tspan><tspan x="703.4">varchar(12)</tspan></text>
<text y="1390.6"><tspan x="601.6">bo_excluido</tspan><tspan x="703.4">tinyint(1)</tspan></text>
</g>
<g id="tipos_eventos"><rect class="r" x="875.7" y="1298.2" width="183.9" height="60"/><path class="sr" d="M875.7,1316.2h183.9"/><text class="tt" x="967.7" y="1310.9">tipos_eventos</text>
<text class="u" y="1327.7"><tspan x="880.4">id_tipo_evento</tspan><tspan x="965.1">smallint(6)</tspan><tspan x="1031.6">&lt;pk&gt;</tspan></text>
<text y="1340.7"><tspan x="880.4">nm_tipo_evento</tspan><tspan x="965.1">varchar(25)</tspan></text>
<text y="1353.7"><tspan x="880.4">ds_tipo_evento</tspan><tspan x="965.1">varchar(255)</tspan></text>
</g>
<g id="controller"><rect class="o" x="630.3" y="1415.6" width="172" height="53.6"/><path class="so" d="M630.3,1433.6h172"/><text class="tt" x="716.3" y="1428.3">controller</text>
<text class="u" y="1445.1"><tspan x="635.4">id_controller</tspan><tspan x="708.1">int(11)</tspan><tspan x="774.7">&lt;pk&gt;</tspan></text>
<text y="1458.1"><tspan x="635.4">nm_controller</tspan><tspan x="708.1">varchar(400)</tspan></text>
</g>
<g id="esqueci_senha"><rect class="o" x="927.3" y="1423.2" width="208.3" height="98.8"/><path class="so" d="M927.3,1441.2h208.3"/><text class="tt" x="1031.5" y="1435.9">esqueci_senha</text>
<text class="u" y="1452.7"><tspan x="931.3">id_esqueci_senha</tspan><tspan x="1024.4">int(11)</tspan><tspan x="1084.4">&lt;pk&gt;</tspan></text>
<text y="1465.7"><tspan x="931.3">id_usuario</tspan><tspan x="1024.4">int(11)</tspan><tspan x="1084.4">&lt;ak1,fk2&gt;</tspan></text>
<text y="1478.7"><tspan x="931.3">tx_identificacao</tspan><tspan x="1024.4">varchar(60)</tspan></text>
<text y="1491.7"><tspan x="931.3">id_situacao</tspan><tspan x="1024.4">int(11)</tspan><tspan x="1084.4">&lt;ak2,fk1&gt;</tspan></text>
<text y="1504.7"><tspan x="931.3">dt_solicitacao</tspan><tspan x="1024.4">datetime</tspan></text>
<text y="1517.7"><tspan x="931.3">dt_alteracao</tspan><tspan x="1024.4">datetime</tspan></text>
</g>
<g id="perfil"><rect class="o" x="0.7" y="1525.4" width="150.5" height="53.2"/><path class="so" d="M0.7,1543.4h150.5"/><text class="tt" x="76" y="1538.1">perfil</text>
<text class="u" y="1554.9"><tspan x="5.5">id_perfil</tspan><tspan x="58.2">int(11)</tspan><tspan x="124.3">&lt;pk&gt;</tspan></text>
<text y="1567.9"><tspan x="5.5">nm_perfil</tspan><tspan x="58.2">varchar(100)</tspan></text>
</g>
<g id="perfil_controller_action"><rect class="o" x="487.1" y="1510.6" width="226.5" height="72.6"/><path class="so" d="M487.1,1528.6h226.5"/><text class="tt" x="600.4" y="1523.3">perfil_controller_action</text>
<text class="u" y="1540.1"><tspan x="491.8">id_perfil_controller_action</tspan><tspan x="624.2">int(11)</tspan><tspan x="662.7">&lt;pk&gt;</tspan></text>
<text y="1553.1"><tspan x="491.8">id_controller</tspan><tspan x="624.2">int(11)</tspan><tspan x="662.7">&lt;ak1,fk2&gt;</tspan></text>
<text y="1566.1"><tspan x="491.8">id_action</tspan><tspan x="624.2">int(11)</tspan><tspan x="662.7">&lt;ak2,fk1&gt;</tspan></text>
<text y="1579.1"><tspan x="491.8">id_perfil</tspan><tspan x="624.2">int(11)</tspan><tspan x="662.7">&lt;ak3,fk3&gt;</tspan></text>
</g>
<g id="action"><rect class="o" x="535.4" y="1635.6" width="156" height="52.7"/><path class="so" d="M535.4,1653.6h156"/><text class="tt" x="613.4" y="1648.3">action</text>
<text class="u" y="1665.1"><tspan x="540.2">id_action</tspan><tspan x="598.4">int(11)</tspan><tspan x="664.5">&lt;pk&gt;</tspan></text>
<text y="1678.1"><tspan x="540.2">nm_action</tspan><tspan x="598.4">varchar(200)</tspan></text>
</g>
<g id="graduacoes"><rect class="r" x="541.3" y="1796.4" width="197.4" height="85.7"/><path class="sr" d="M541.3,1814.4h197.4"/><text class="tt" x="640" y="1809.1">graduacoes</text>
<text class="u" y="1825.9"><tspan x="546.4">id_graduacao</tspan><tspan x="628.2">smallint(6)</tspan><tspan x="688.5">&lt;pk&gt;</tspan></text>
<text y="1838.9"><tspan x="546.4">id_estilo</tspan><tspan x="628.2">smallint(6)</tspan><tspan x="688.5">&lt;ak2,fk2&gt;</tspan></text>
<text y="1851.9"><tspan x="546.4">id_arte_marcial</tspan><tspan x="628.2">smallint(6)</tspan><tspan x="688.5">&lt;ak1,fk1&gt;</tspan></text>
<text y="1864.9"><tspan x="546.4">nm_graduacao</tspan><tspan x="628.2">varchar(40)</tspan></text>
<text y="1877.9"><tspan x="546.4">sg_graduacao</tspan><tspan x="628.2">char(15)</tspan></text>
</g>
<g id="estilos"><rect class="r" x="978.2" y="1882.6" width="152.3" height="59.9"/><path class="sr" d="M978.2,1900.6h152.3"/><text class="tt" x="1054.3" y="1895.3">estilos</text>
<text class="u" y="1912.1"><tspan x="983.3">id_estilo</tspan><tspan x="1037.1">smallint(6)</tspan><tspan x="1103.6">&lt;pk&gt;</tspan></text>
<text y="1925.1"><tspan x="983.3">nm_estilo</tspan><tspan x="1037.1">varchar(20)</tspan></text>
<text y="1938.1"><tspan x="983.3">ds_estilo</tspan><tspan x="1037.1">varchar(250)</tspan></text>
</g>
<g id="arte_marcial"><rect class="r" x="544.2" y="1932.4" width="180.3" height="52.8"/><path class="sr" d="M544.2,1950.4h180.3"/><text class="tt" x="634.3" y="1945.1">arte_marcial</text>
<text class="u" y="1961.9"><tspan x="548.2">id_arte_marcial</tspan><tspan x="636.2">smallint(6)</tspan><tspan x="696.5">&lt;pk&gt;</tspan></text>
<text y="1974.9"><tspan x="548.2">nm_arte_marcial</tspan><tspan x="636.2">varchar(50)</tspan></text>
</g>
<g id="tipo_tcc"><rect class="g" x="1413.4" y="81.5" width="158.1" height="54"/><path class="sg" d="M1413.4,99.5h158.1"/><text class="tt" x="1492.4" y="94.2">tipo_tcc</text>
<text class="u" y="111"><tspan x="1417.4">id_tipo_tcc</tspan><tspan x="1482.8">smallint</tspan><tspan x="1543.5">&lt;pk&gt;</tspan></text>
<text y="124"><tspan x="1417.4">nm_tipo_tcc</tspan><tspan x="1482.8">varchar(30)</tspan></text>
</g>
<g id="area_conhecimento"><rect class="g" x="1641.3" y="0.5" width="216.4" height="53.1"/><path class="sg" d="M1641.3,18.5h216.4"/><text class="tt" x="1749.5" y="13.2">area_conhecimento</text>
<text class="u" y="30"><tspan x="1645.3">id_area_conhecimento</tspan><tspan x="1767.9">smallint</tspan><tspan x="1827.9">&lt;pk&gt;</tspan></text>
<text y="43"><tspan x="1645.3">nm_area_conhecimento</tspan><tspan x="1767.9">varchar(50)</tspan></text>
</g>
<g id="tcc"><rect class="g" x="1644.2" y="113.1" width="224.4" height="177.3"/><path class="sg" d="M1644.2,131.1h224.4"/><text class="tt" x="1756.4" y="125.8">tcc</text>
<text class="u" y="142.6"><tspan x="1648.2">id_tcc</tspan><tspan x="1768.3">bigint</tspan><tspan x="1835.1">&lt;pk&gt;</tspan></text>
<text y="155.6"><tspan x="1648.2">id_usuario_cadastro</tspan><tspan x="1768.3">int(11)</tspan><tspan x="1835.1">&lt;fk1&gt;</tspan></text>
<text y="168.6"><tspan x="1648.2">id_usuario_alteracao</tspan><tspan x="1768.3">int(11)</tspan><tspan x="1835.1">&lt;fk2&gt;</tspan></text>
<text y="181.6"><tspan x="1648.2">id_banca_examinadora</tspan><tspan x="1768.3">int</tspan><tspan x="1835.1">&lt;fk3&gt;</tspan></text>
<text y="194.6"><tspan x="1648.2">id_area_conhecimento</tspan><tspan x="1768.3">smallint</tspan><tspan x="1835.1">&lt;fk4&gt;</tspan></text>
<text y="207.6"><tspan x="1648.2">id_tipo_tcc</tspan><tspan x="1768.3">smallint</tspan><tspan x="1835.1">&lt;fk5&gt;</tspan></text>
<text y="220.6"><tspan x="1648.2">id_professor_orientador</tspan><tspan x="1768.3">smallint</tspan><tspan x="1835.1">&lt;fk6&gt;</tspan></text>
<text y="233.6"><tspan x="1648.2">tx_titulo_tcc</tspan><tspan x="1768.3">varchar(150)</tspan></text>
<text y="246.6"><tspan x="1648.2">tx_resumo</tspan><tspan x="1768.3">text</tspan></text>
<text y="259.6"><tspan x="1648.2">dt_cadastro</tspan><tspan x="1768.3">timestamp</tspan></text>
<text y="272.6"><tspan x="1648.2">dt_alteracao</tspan><tspan x="1768.3">timestamp</tspan></text>
<text y="285.6"><tspan x="1648.2">nr_nota_final</tspan><tspan x="1768.3">decimal(4,2)</tspan></text>
</g>
<g id="palavra_chave"><rect class="g" x="2027.4" y="8" width="191.2" height="53.2"/><path class="sg" d="M2027.4,26h191.2"/><text class="tt" x="2123" y="20.7">palavra_chave</text>
<text class="u" y="37.5"><tspan x="2032.2">id_palavra_chave</tspan><tspan x="2130.3">bigint</tspan><tspan x="2190.3">&lt;pk&gt;</tspan></text>
<text y="50.5"><tspan x="2032.2">nm_palavra_chave</tspan><tspan x="2130.3">varchar(25)</tspan></text>
</g>
<g id="palavra_chave_tcc"><rect class="g" x="2072.5" y="129.6" width="182.1" height="59.9"/><path class="sg" d="M2072.5,147.6h182.1"/><text class="tt" x="2163.5" y="142.3">palavra_chave_tcc</text>
<text class="u" y="159.1"><tspan x="2077.2">id_palavra_chave_tcc</tspan><tspan x="2188.1">bigint</tspan><tspan x="2223.7">&lt;pk&gt;</tspan></text>
<text y="172.1"><tspan x="2077.2">id_tcc</tspan><tspan x="2188.1">bigint</tspan><tspan x="2223.7">&lt;fk1&gt;</tspan></text>
<text y="185.1"><tspan x="2077.2">id_palavra_chave</tspan><tspan x="2188.1">bigint</tspan><tspan x="2223.7">&lt;fk2&gt;</tspan></text>
</g>
<g id="banca_examinadora"><rect class="g" x="2043.4" y="229.2" width="211.2" height="60"/><path class="sg" d="M2043.4,247.2h211.2"/><text class="tt" x="2149" y="241.9">banca_examinadora</text>
<text class="u" y="258.7"><tspan x="2048.2">id_banca_examinadora</tspan><tspan x="2168.1">int</tspan><tspan x="2225.5">&lt;pk&gt;</tspan></text>
<text y="271.7"><tspan x="2048.2">id_professor</tspan><tspan x="2168.1">smallint</tspan><tspan x="2225.5">&lt;fk&gt;</tspan></text>
<text y="284.7"><tspan x="2048.2">dt_banca</tspan><tspan x="2168.1">timestamp</tspan></text>
</g>
<g id="curso"><rect class="g" x="1647.5" y="390.5" width="144.7" height="52.8"/><path class="sg" d="M1647.5,408.5h144.7"/><text class="tt" x="1719.9" y="403.2">curso</text>
<text class="u" y="420"><tspan x="1652.2">id_curso</tspan><tspan x="1705.3">int</tspan><tspan x="1765.7">&lt;pk&gt;</tspan></text>
<text y="433"><tspan x="1652.2">nm_curso</tspan><tspan x="1705.3">varchar(50)</tspan></text>
</g>
<g id="concluinte"><rect class="g" x="1846.4" y="369.4" width="174.1" height="85.7"/><path class="sg" d="M1846.4,387.4h174.1"/><text class="tt" x="1933.5" y="382.1">concluinte</text>
<text class="u" y="398.9"><tspan x="1851.1">id_concluinte</tspan><tspan x="1929.3">int</tspan><tspan x="1989.3">&lt;pk&gt;</tspan></text>
<text y="411.9"><tspan x="1851.1">id_curso</tspan><tspan x="1929.3">int</tspan><tspan x="1989.3">&lt;fk1&gt;</tspan></text>
<text y="424.9"><tspan x="1851.1">id_tcc</tspan><tspan x="1929.3">bigint</tspan><tspan x="1989.3">&lt;fk2&gt;</tspan></text>
<text y="437.9"><tspan x="1851.1">nm_concluinte</tspan><tspan x="1929.3">varchar(50)</tspan></text>
<text y="450.9"><tspan x="1851.1">nr_matricula</tspan><tspan x="1929.3">varchar(20)</tspan></text>
</g>
<g id="professor"><rect class="g" x="1438.4" y="453.8" width="198.1" height="110.6"/><path class="sg" d="M1438.4,471.8h198.1"/><text class="tt" x="1537.5" y="466.5">professor</text>
<text class="u" y="483.3"><tspan x="1443.2">id_professor</tspan><tspan x="1545">smallint</tspan><tspan x="1605.3">&lt;pk&gt;</tspan></text>
<text y="496.1"><tspan x="1443.2">id_titulacao</tspan><tspan x="1545">smallint</tspan><tspan x="1605.3">&lt;fk1&gt;</tspan></text>
<text y="508.9"><tspan x="1443.2">id_usuario_cadastro</tspan><tspan x="1545">int(11)</tspan><tspan x="1605.3">&lt;fk2&gt;</tspan></text>
<text y="521.7"><tspan x="1443.2">nm_professor</tspan><tspan x="1545">varchar(50)</tspan></text>
<text y="534.5"><tspan x="1443.2">dt_cadastro</tspan><tspan x="1545">timestamp</tspan></text>
<text y="547.3"><tspan x="1443.2">cs_orientador</tspan><tspan x="1545">char(1)</tspan></text>
<text y="560.1"><tspan x="1443.2">cs_ativo</tspan><tspan x="1545">char(1)</tspan></text>
</g>
<g id="membros_banca"><rect class="g" x="2073.2" y="455.9" width="201.1" height="73.5"/><path class="sg" d="M2073.2,473.9h201.1"/><text class="tt" x="2173.8" y="468.6">membros_banca</text>
<text class="u" y="485.4"><tspan x="2077.2">id_membro_banca</tspan><tspan x="2196.8">int</tspan><tspan x="2241.9">&lt;pk&gt;</tspan></text>
<text y="498.4"><tspan x="2077.2">id_banca_examinadora</tspan><tspan x="2196.8">int</tspan><tspan x="2241.9">&lt;fk1&gt;</tspan></text>
<text y="511.4"><tspan x="2077.2">id_professor</tspan><tspan x="2196.8">smallint</tspan><tspan x="2241.9">&lt;fk2&gt;</tspan></text>
<text y="524.4"><tspan x="2077.2">cs_orientador</tspan><tspan x="2196.8">char(1)</tspan></text>
</g>
<g id="titulacao"><rect class="g" x="1648.2" y="594.4" width="162.2" height="52.4"/><path class="sg" d="M1648.2,612.4h162.2"/><text class="tt" x="1729.3" y="607.1">titulacao</text>
<text class="u" y="623.9"><tspan x="1652.2">id_titulacao</tspan><tspan x="1722.1">smallint</tspan><tspan x="1782.4">&lt;pk&gt;</tspan></text>
<text y="636.9"><tspan x="1652.2">nm_titulacao</tspan><tspan x="1722.1">varchar(35)</tspan></text>
</g>
</svg>
